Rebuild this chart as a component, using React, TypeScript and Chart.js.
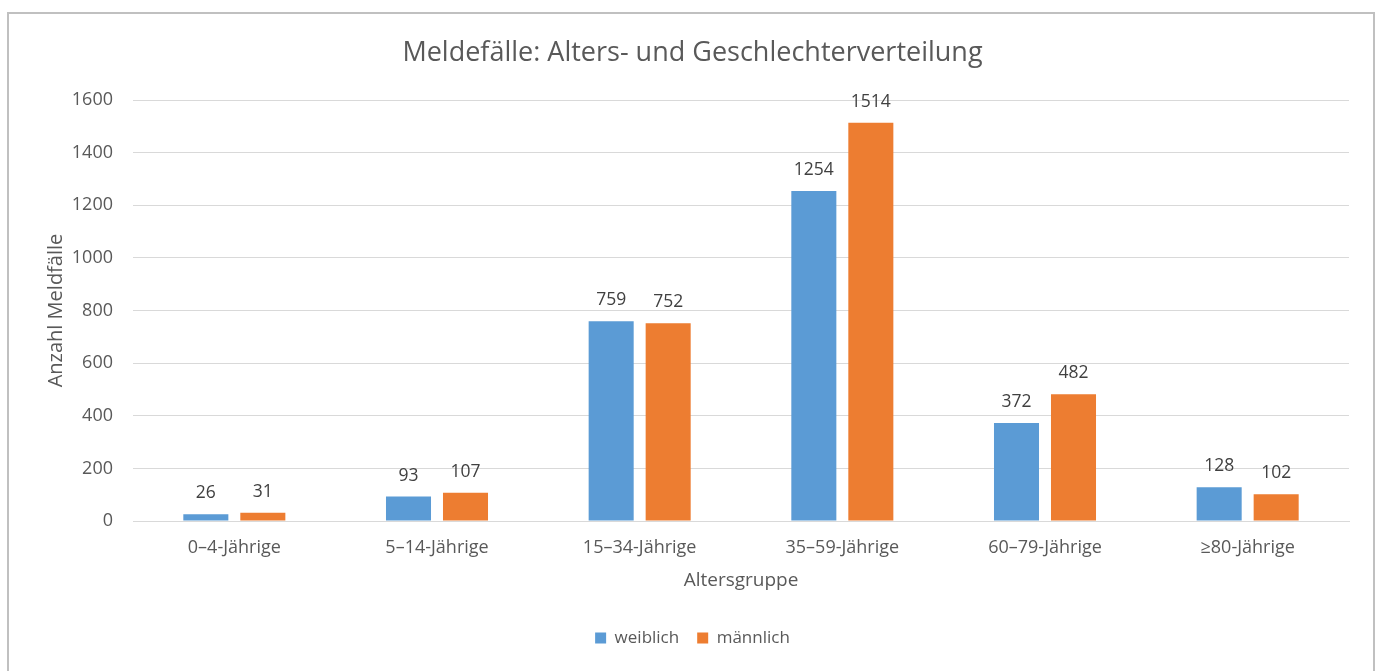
import React, { useEffect, useRef } from "react";
import { Chart, registerables } from "chart.js";

Chart.register(...registerables);

const categories = ["0–4-Jährige", "5–14-Jährige", "15–34-Jährige", "35–59-Jährige", "60–79-Jährige", "≥80-Jährige"];
const weiblich = [26, 93, 759, 1254, 372, 128];
const maennlich = [31, 107, 752, 1514, 482, 102];
const seriesNames = ["weiblich", "männlich"];
const yMax = 1600;
const yStep = 200;

const FONT = "'Open Sans', sans-serif";
const TEXT = "#595959";

const valueLabels = {
  id: "valueLabels",
  afterDatasetsDraw(chart: any) {
    const ctx = chart.ctx;
    ctx.save();
    ctx.font = `17.5px ${FONT}`;
    ctx.fillStyle = "#404040";
    ctx.textAlign = "center";
    ctx.textBaseline = "middle";
    chart.data.datasets.forEach((ds: any, i: number) => {
      const meta = chart.getDatasetMeta(i);
      meta.data.forEach((bar: any, j: number) => {
        ctx.fillText(String(ds.data[j]), bar.x, bar.y - 21);
      });
    });
    ctx.restore();
  },
};

export default function App() {
  const ref = useRef<HTMLCanvasElement>(null);
  useEffect(() => {
    const chart = new Chart(ref.current!, {
      type: "bar",
      data: {
        labels: categories,
        datasets: [
          { label: seriesNames[0], data: weiblich, backgroundColor: "#5b9bd5", categoryPercentage: 0.5625, barPercentage: 0.79 },
          { label: seriesNames[1], data: maennlich, backgroundColor: "#ed7d31", categoryPercentage: 0.5625, barPercentage: 0.79 },
        ],
      },
      options: {
        animation: false,
        responsive: false,
        layout: { padding: { left: 36, right: 35, top: 30, bottom: 14.5 } },
        plugins: {
          title: {
            display: true,
            text: "Meldefälle: Alters- und Geschlechterverteilung",
            color: TEXT,
            font: { family: FONT, size: 27, weight: "normal" },
            padding: { top: 7, bottom: 30.6 },
          },
          legend: {
            position: "bottom",
            labels: {
              color: TEXT,
              font: { family: FONT, size: 17 },
              boxWidth: 11,
              boxHeight: 11,
              padding: 18,
            },
          },
          tooltip: { enabled: false },
        },
        scales: {
          x: {
            grid: { display: false, drawTicks: false },
            border: { display: true, color: "#d9d9d9" },
            ticks: { color: TEXT, font: { family: FONT, size: 18 }, padding: 16, maxRotation: 0 },
            title: {
              display: true,
              text: "Altersgruppe",
              color: TEXT,
              font: { family: FONT, size: 19 },
              padding: { top: 0, bottom: 20 },
            },
            afterFit(scale: any) {
              scale.height = 90.5;
            },
          },
          y: {
            min: 0,
            max: yMax,
            ticks: {
              stepSize: yStep,
              color: TEXT,
              font: { family: FONT, size: 18 },
              padding: 20,
              callback: (v: any) => String(v),
            },
            grid: { color: "#d9d9d9", drawTicks: false },
            border: { display: false },
            title: {
              display: true,
              text: "Anzahl Meldfälle",
              color: TEXT,
              font: { family: FONT, size: 20 },
              padding: { top: 8, bottom: 0 },
            },
            afterFit(scale: any) {
              scale.width = 97;
            },
          },
        },
      },
      plugins: [valueLabels],
    });
    return () => chart.destroy();
  }, []);
  return (
    <div>
      <div
        style={{
          position: "fixed",
          left: 7,
          top: 12,
          width: 1368,
          height: 700,
          border: "2px solid #c0c0c0",
          boxSizing: "border-box",
          background: "#fff",
        }}
      />
      <canvas
        ref={ref}
        width={1384}
        height={671}
        style={{ position: "fixed", left: 0, top: 0, width: 1384, height: 671 }}
      />
    </div>
  );
}
